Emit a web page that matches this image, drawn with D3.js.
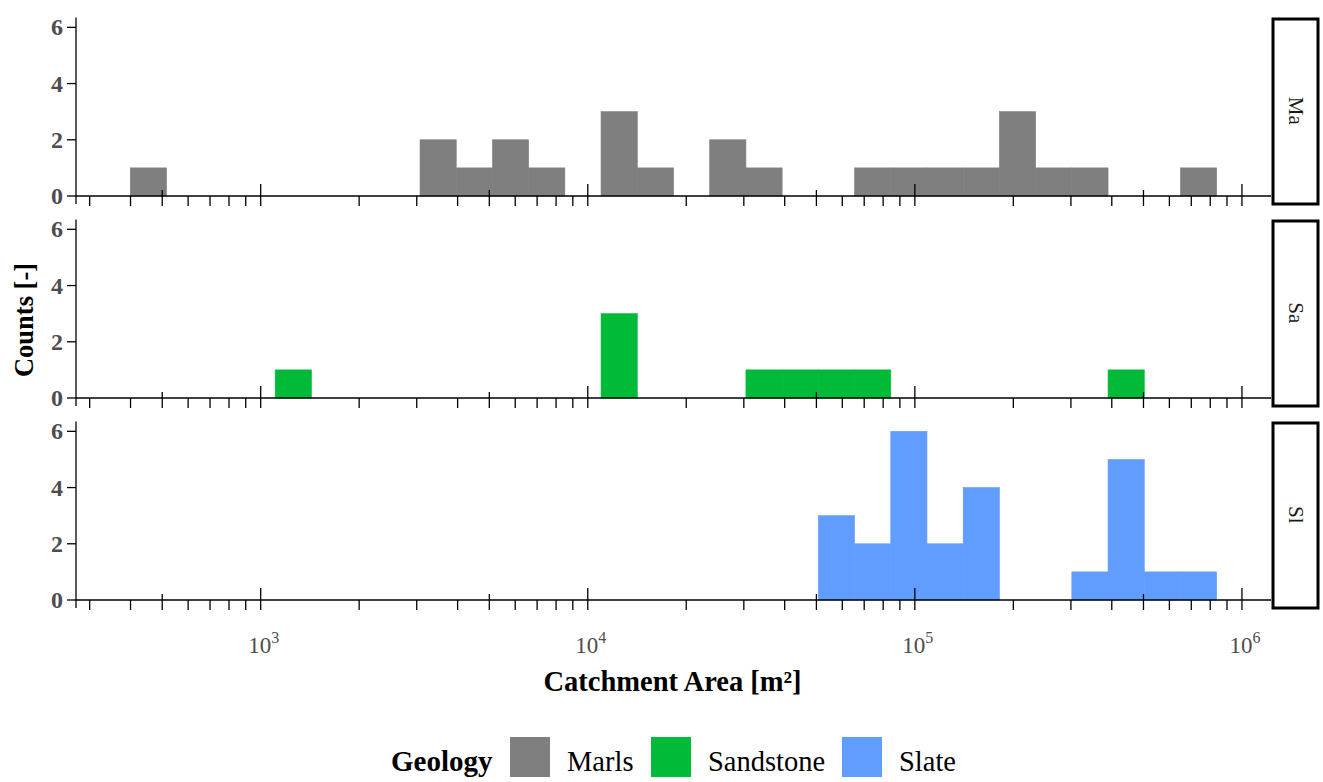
<!DOCTYPE html>
<html>
<head>
<meta charset="utf-8">
<title>Catchment area histogram</title>
<style>
  body { margin: 0; background: #fff; }
  text { font-family: "Liberation Serif", "Times New Roman", serif; }
</style>
</head>
<body>
<svg id="chart"></svg>
<script src="https://cdnjs.cloudflare.com/ajax/libs/d3/7.8.5/d3.min.js"></script>
<script>
// histogram break points (m²), 30 log-spaced bins
var breaks = [399.4, 515.4, 665.0, 858.2, 1107.3, 1428.9, 1844.2, 2378.4, 3069.9, 3961.3,
  5111, 6595, 8511, 10980, 14170, 18289, 23593, 30446, 39286, 50693,
  65411, 84412, 108890, 140520, 181380, 233980, 301940, 389630, 502750, 648630, 837070];

var geologies = ['Marls', 'Sandstone', 'Slate'];
var stripLabels = ['Ma', 'Sa', 'Sl'];
var geoColors = ['#7f7f7f', '#00ba38', '#619cff'];

// counts per bin
var marlsCounts     = [1,0,0,0,0,0,0,0,2,1, 2,1,0,3,1,0,2,1,0,0, 1,1,1,1,3,1,1,0,0,1];
var sandstoneCounts = [0,0,0,0,1,0,0,0,0,0, 0,0,0,3,0,0,0,1,1,1, 1,0,0,0,0,0,0,1,0,0];
var slateCounts     = [0,0,0,0,0,0,0,0,0,0, 0,0,0,0,0,0,0,0,0,3, 2,6,2,4,0,0,1,5,1,1];

var yTicks = [0, 2, 4, 6];
var xLabelExponents = [3, 4, 5, 6];

var width = 1323, height = 782;
var svg = d3.select('#chart').attr('width', width).attr('height', height);

var axisGrey = '#4d4d4d';
var plotLeft = 76, plotRight = 1271;
var panelTop0 = 17.5, panelStep = 202, panelHeight = 178.5;

// log x scale, expanded 5% around the bin range
var lo = Math.log10(breaks[0]), hi = Math.log10(breaks[breaks.length - 1]);
var pad = (hi - lo) * 0.05;
var x = d3.scaleLog()
  .domain([Math.pow(10, lo - pad), Math.pow(10, hi + pad)])
  .range([plotLeft, plotRight]);

var series = [marlsCounts, sandstoneCounts, slateCounts];

series.forEach(function(counts, p) {
  var top = panelTop0 + p * panelStep;
  var base = top + panelHeight;
  var y = d3.scaleLinear().domain([0, 6.35]).range([base, top]);
  var g = svg.append('g');

  var bins = counts.map(function(c, i) {
    return { x0: breaks[i], x1: breaks[i + 1], count: c };
  }).filter(function(d) { return d.count > 0; });

  g.selectAll('rect.bar').data(bins).enter()
    .append('rect')
    .attr('class', 'bar')
    .attr('x', function(d) { return x(d.x0); })
    .attr('width', function(d) { return x(d.x1) - x(d.x0); })
    .attr('y', function(d) { return y(d.count); })
    .attr('height', function(d) { return y(0) - y(d.count); })
    .attr('fill', geoColors[p])
    .attr('stroke', geoColors[p])
    .attr('stroke-width', 0.6);

  // y axis
  g.append('line')
    .attr('x1', plotLeft).attr('x2', plotLeft)
    .attr('y1', top).attr('y2', base + 8)
    .attr('stroke', '#000').attr('stroke-width', 1.3);
  yTicks.forEach(function(t) {
    g.append('line')
      .attr('x1', plotLeft - 9).attr('x2', plotLeft)
      .attr('y1', y(t)).attr('y2', y(t))
      .attr('stroke', '#000').attr('stroke-width', 1.3);
    g.append('text')
      .attr('x', plotLeft - 13).attr('y', y(t) + 8)
      .attr('text-anchor', 'end')
      .attr('font-size', 24).attr('font-weight', 'bold')
      .attr('fill', axisGrey)
      .text(t);
  });

  // x axis line + log ticks
  g.append('line')
    .attr('x1', plotLeft).attr('x2', plotRight)
    .attr('y1', base).attr('y2', base)
    .attr('stroke', '#000').attr('stroke-width', 1.3);
  x.ticks().forEach(function(v) {
    var k = Math.round(v / Math.pow(10, Math.floor(Math.log10(v) + 1e-9)));
    var up = k === 1 ? 12 : (k === 5 ? 6 : 0);
    g.append('line')
      .attr('x1', x(v)).attr('x2', x(v))
      .attr('y1', base - up).attr('y2', base + 10)
      .attr('stroke', '#000').attr('stroke-width', 1.3);
  });

  // strip on the right
  var sx = 1273, sw = 45;
  g.append('rect')
    .attr('x', sx).attr('y', top + 1.5)
    .attr('width', sw).attr('height', base + 8 - top - 1.5)
    .attr('fill', '#fff').attr('stroke', '#000').attr('stroke-width', 3);
  var cy = top + (base + 8 - top) / 2;
  g.append('text')
    .attr('transform', 'translate(' + (sx + sw / 2 - 7) + ',' + cy + ') rotate(90)')
    .attr('text-anchor', 'middle')
    .attr('font-size', 21)
    .attr('fill', '#1a1a1a')
    .text(stripLabels[p]);

  // x tick labels on the bottom panel only
  if (p === series.length - 1) {
    xLabelExponents.forEach(function(e) {
      var t = g.append('text')
        .attr('x', x(Math.pow(10, e)) + 3).attr('y', base + 53)
        .attr('text-anchor', 'middle')
        .attr('font-size', 23)
        .attr('fill', axisGrey);
      t.append('tspan').text('10');
      t.append('tspan').attr('font-size', 16).attr('dy', -10).text(e);
    });
  }
});

// axis titles
svg.append('text')
  .attr('x', (plotLeft + plotRight) / 2 - 1).attr('y', 691)
  .attr('text-anchor', 'middle')
  .attr('font-size', 28.5).attr('font-weight', 'bold')
  .text('Catchment Area [m²]');

svg.append('text')
  .attr('transform', 'translate(33,' + 320 + ') rotate(-90)')
  .attr('text-anchor', 'middle')
  .attr('font-size', 26.5).attr('font-weight', 'bold')
  .text('Counts [-]');

// legend
var legend = svg.append('g');
legend.append('text')
  .attr('x', 391).attr('y', 771)
  .attr('font-size', 29).attr('font-weight', 'bold')
  .text('Geology');
var keyX = [510, 651, 842];
geologies.forEach(function(name, i) {
  legend.append('rect')
    .attr('x', keyX[i]).attr('y', 737)
    .attr('width', 40).attr('height', 40)
    .attr('fill', geoColors[i]);
  legend.append('text')
    .attr('x', keyX[i] + 57).attr('y', 771)
    .attr('font-size', 28.5)
    .text(name);
});
</script>
</body>
</html>
